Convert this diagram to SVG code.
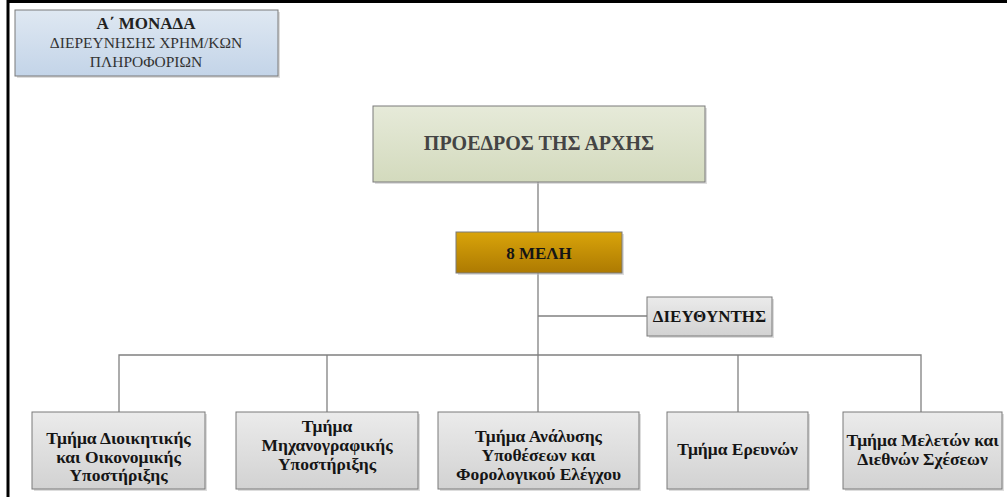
<svg xmlns="http://www.w3.org/2000/svg" width="1007" height="497" viewBox="0 0 1007 497">
<style>
text{font-family:"Liberation Serif","DejaVu Serif",serif;text-anchor:middle}
.b{font-weight:bold;font-size:17.5px;fill:#151515}
.box{stroke:#7a7a7a;stroke-width:1}
.con{stroke:#808080;stroke-width:1.3;fill:none}
.sh{fill:#bbb;opacity:0.5}
</style>
<defs>
<linearGradient id="gBlue" x1="0" y1="0" x2="0" y2="1"><stop offset="0" stop-color="#dfe8f2"/><stop offset="1" stop-color="#c3d4e8"/></linearGradient>
<linearGradient id="gGreen" x1="0" y1="0" x2="0" y2="1"><stop offset="0" stop-color="#e6ead9"/><stop offset="1" stop-color="#d3dabd"/></linearGradient>
<linearGradient id="gGold" x1="0" y1="0" x2="0" y2="1"><stop offset="0" stop-color="#d9a40a"/><stop offset="1" stop-color="#ad7a02"/></linearGradient>
<linearGradient id="gGray" x1="0" y1="0" x2="0" y2="1"><stop offset="0" stop-color="#ebebeb"/><stop offset="1" stop-color="#d2d2d2"/></linearGradient>
</defs>
<rect width="1007" height="497" fill="#fff"/>
<g id="frame">
<line x1="8" y1="1.5" x2="1007" y2="1.5" stroke="#000" stroke-width="3"/>
<line x1="8" y1="0" x2="8" y2="497" stroke="#000" stroke-width="3"/>
</g>
<g id="connectors">
<path class="con" d="M538 182V412"/>
<path class="con" d="M538 316H647"/>
<path class="con" d="M119 412V355H921V412"/>
<path class="con" d="M327 355V412"/>
<path class="con" d="M738 355V412"/>
</g>
<g id="unit">
<rect class="sh" x="17" y="12" width="263" height="66"/>
<rect class="box" x="15" y="10" width="263" height="66" fill="url(#gBlue)"/>
<text x="146" y="29" style="font-weight:bold;font-size:17px;fill:#222">Α΄ ΜΟΝΑΔΑ</text>
<text x="146" y="48" style="font-size:15.5px;fill:#333">ΔΙΕΡΕΥΝΗΣΗΣ ΧΡΗΜ/ΚΩΝ</text>
<text x="146" y="67" style="font-size:15.5px;fill:#333">ΠΛΗΡΟΦΟΡΙΩΝ</text>
</g>
<g id="president">
<rect class="sh" x="375" y="108" width="332" height="76"/>
<rect class="box" x="373" y="106" width="332" height="76" fill="url(#gGreen)"/>
<text x="539" y="150" style="font-weight:bold;font-size:20px;fill:#444">ΠΡΟΕΔΡΟΣ ΤΗΣ ΑΡΧΗΣ</text>
</g>
<g id="members">
<rect class="sh" x="458" y="234" width="166" height="41"/>
<rect class="box" x="456" y="232" width="166" height="41" fill="url(#gGold)"/>
<text x="539" y="259" class="b" style="font-size:17px">8 ΜΕΛΗ</text>
</g>
<g id="director">
<rect class="sh" x="649" y="299" width="125" height="39"/>
<rect class="box" x="647" y="297" width="125" height="39" fill="url(#gGray)"/>
<text x="709.5" y="322" class="b" style="font-size:17px">ΔΙΕΥΘΥΝΤΗΣ</text>
</g>
<g id="dept1">
<rect class="sh" x="34" y="414" width="173" height="77"/>
<rect class="box" x="32" y="412" width="173" height="77" fill="url(#gGray)"/>
<text x="118.5" y="444" class="b">Τμήμα Διοικητικής</text>
<text x="118.5" y="462.5" class="b">και Οικονομικής</text>
<text x="118.5" y="481" class="b">Υποστήριξης</text>
</g>
<g id="dept2">
<rect class="sh" x="238" y="414" width="182" height="77"/>
<rect class="box" x="236" y="412" width="182" height="77" fill="url(#gGray)"/>
<text x="327" y="432" class="b">Τμήμα</text>
<text x="327" y="451" class="b">Μηχανογραφικής</text>
<text x="327" y="470" class="b">Υποστήριξης</text>
</g>
<g id="dept3">
<rect class="sh" x="440" y="414" width="201" height="77"/>
<rect class="box" x="438" y="412" width="201" height="77" fill="url(#gGray)"/>
<text x="538.5" y="442" class="b">Τμήμα Ανάλυσης</text>
<text x="538.5" y="461" class="b">Υποθέσεων και</text>
<text x="538.5" y="480" class="b">Φορολογικού Ελέγχου</text>
</g>
<g id="dept4">
<rect class="sh" x="669" y="414" width="141" height="77"/>
<rect class="box" x="667" y="412" width="141" height="77" fill="url(#gGray)"/>
<text x="737.5" y="455" class="b">Τμήμα Ερευνών</text>
</g>
<g id="dept5">
<rect class="sh" x="845" y="414" width="159" height="77"/>
<rect class="box" x="843" y="412" width="159" height="77" fill="url(#gGray)"/>
<text x="922.5" y="446" class="b">Τμήμα Μελετών και</text>
<text x="922.5" y="465" class="b">Διεθνών Σχέσεων</text>
</g>
</svg>
